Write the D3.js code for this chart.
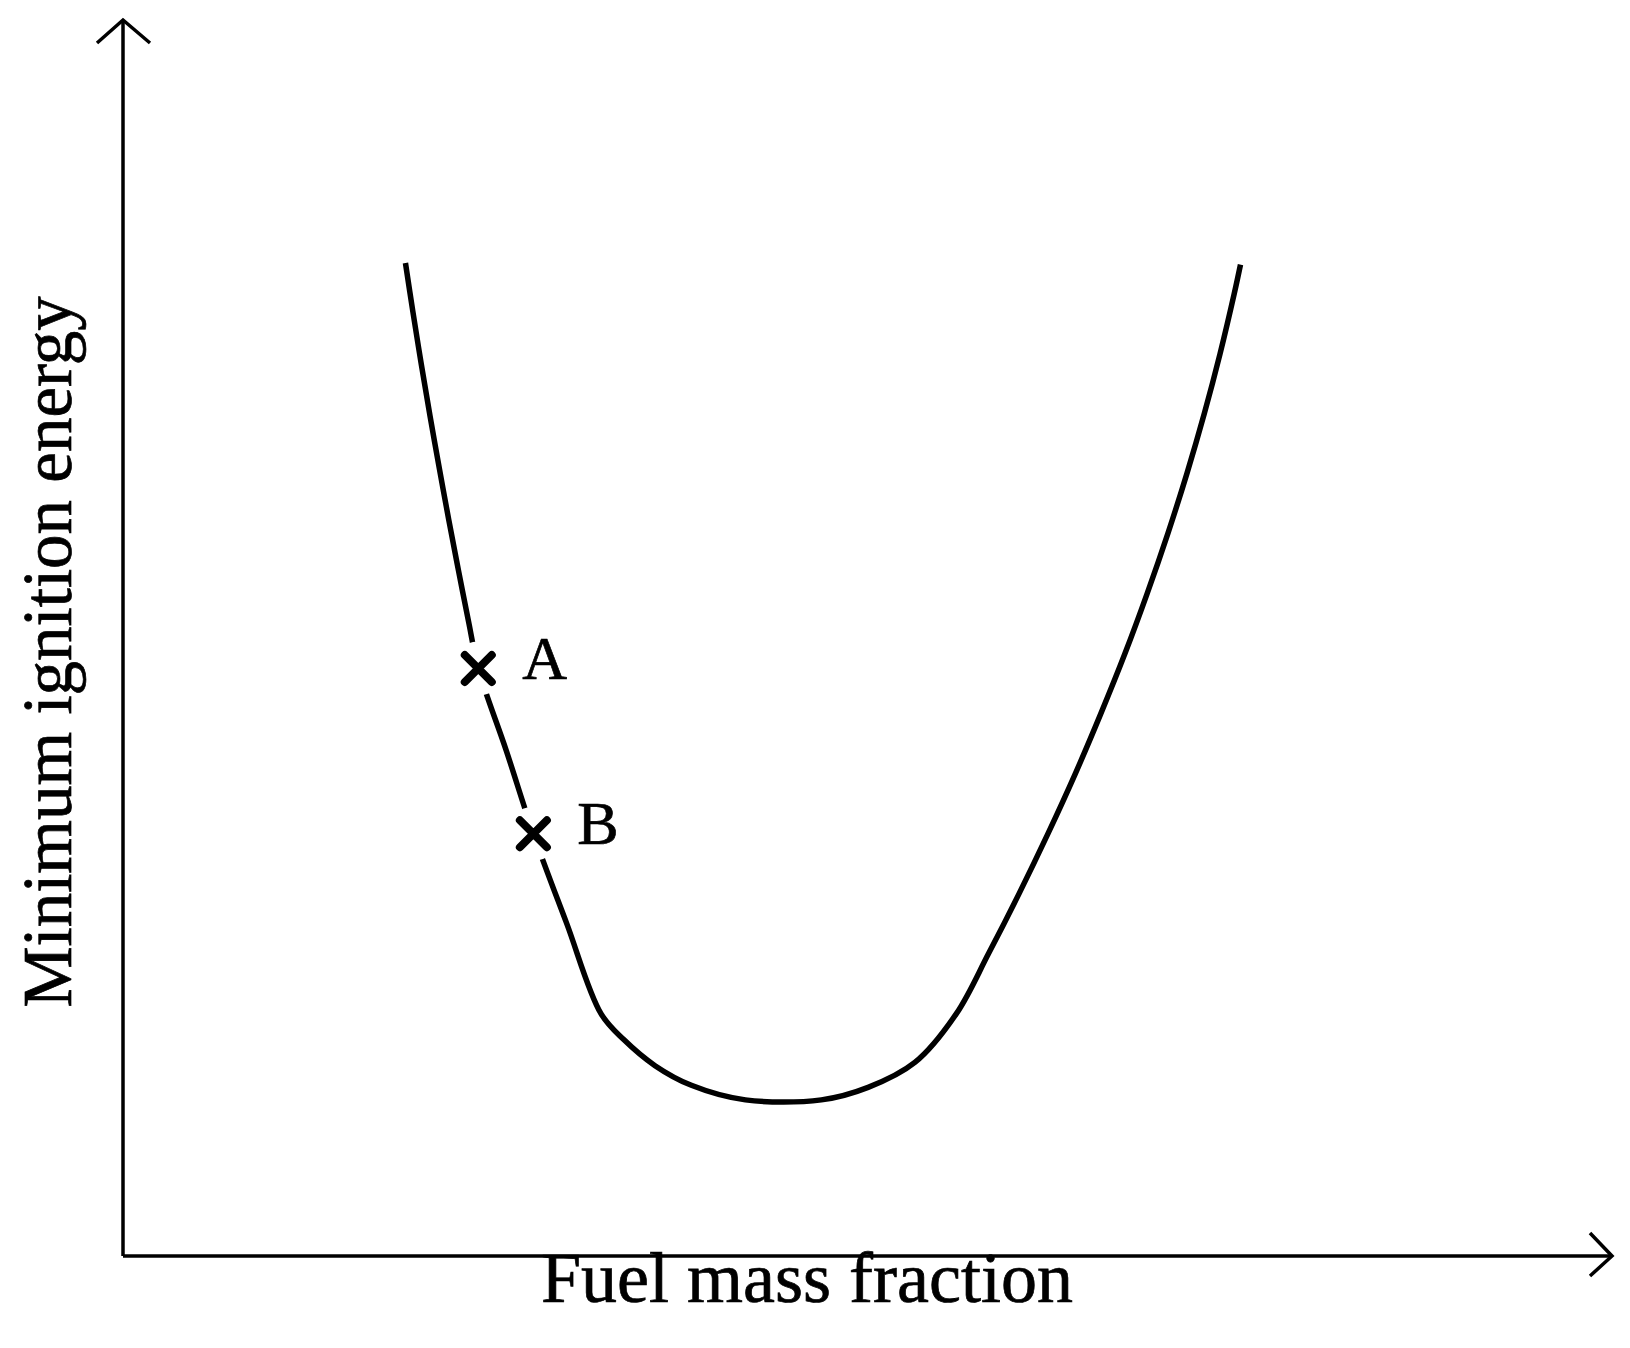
<!DOCTYPE html>
<html>
  <head>
    <script src="https://d3js.org/d3.v7.min.js"></script>
    <style>
      body {margin: 0; background: #fff;}
      #axes path {fill: none; stroke: #000; stroke-width: 3.5;}
      #curve path {fill: none; stroke: #000; stroke-width: 5.5; stroke-linejoin: round;}
      text {font-family: "Liberation Serif", "Times New Roman", serif; fill: #000; stroke: #000; stroke-width: 0.7;}
    </style>
  </head>
  <body>
    <svg id="chart" width="1630" height="1348">
      <g id="axes"/>
      <g id="curve"/>
      <g id="marks"/>
      <g id="labels"/>
    </svg>
  </body>
  <script>
      let width = 1630, height = 1348;
      let origin = {x: 123, y: 1256}, axisEnd = {x: 1612, y: 20};

      // schematic curve, arbitrary units (0-100 on both axes)
      let fuelFraction = [18.97, 19.47, 20.03, 20.62, 21.24, 21.88, 22.55, 23.24, 23.86, 25.74, 27.56, 29.79,
          32.10, 33.63, 35.73, 38.17, 41.80, 46.90, 50.04, 53.18, 55.97, 58.13, 60.18, 62.12, 63.96,
          65.67, 67.29, 68.78, 70.17, 71.45, 72.62, 73.68, 74.63, 75.05];
      let ignitionEnergy = [80.34, 76.38, 72.17, 67.96, 63.75, 59.55, 55.34, 51.13, 47.53, 40.89, 34.16, 26.93,
          19.61, 17.51, 15.40, 13.81, 12.63, 12.63, 13.64, 15.66, 19.61, 24.47, 29.32, 34.17, 39.03,
          43.88, 48.74, 53.59, 58.45, 63.30, 68.16, 73.01, 77.86, 80.21];
      let pointNames = ["A", "B"];
      let pointFraction = [23.86, 27.56];
      let pointEnergy = [47.53, 34.16];
      let xTitle = "Fuel mass fraction", yTitle = "Minimum ignition energy";

      let x = d3.scaleLinear().domain([0, 100]).range([origin.x, axisEnd.x]);
      let y = d3.scaleLinear().domain([0, 100]).range([origin.y, axisEnd.y]);

      // axes with open arrow heads
      let axes = d3.select("#axes");
      axes.append("path").attr("d", d3.line()([[x(0), y(0)], [x(0), y(100)]]));
      axes.append("path").attr("d", d3.line()([[x(0), y(0)], [x(100), y(0)]]));
      axes.append("path").attr("d", d3.line()([[x(0) - 26, y(100) + 23], [x(0), y(100)], [x(0) + 27, y(100) + 23]]));
      axes.append("path").attr("d", d3.line()([[x(100) - 22, y(0) - 23], [x(100), y(0)], [x(100) - 22, y(0) + 20]]));

      let curveData = fuelFraction.map((f, i) => ({f: f, e: ignitionEnergy[i]}));
      d3.select("#curve").append("path")
          .datum(curveData)
          .attr("d", d3.line().curve(d3.curveCatmullRom.alpha(0.5)).x(d => x(d.f)).y(d => y(d.e)));

      let pts = pointNames.map((n, i) => ({name: n, f: pointFraction[i], e: pointEnergy[i]}));
      let marks = d3.select("#marks").selectAll("g").data(pts).enter().append("g")
          .attr("transform", d => `translate(${x(d.f)},${y(d.e)})`);
      marks.append("circle").attr("r", 27).attr("fill", "#fff");
      let s = 13.5;
      marks.append("path")
          .attr("d", `M${-s},${-s}L${s},${s}M${s},${-s}L${-s},${s}`)
          .attr("stroke", "#000").attr("stroke-width", 8).attr("stroke-linecap", "round");

      let labels = d3.select("#labels");
      labels.selectAll("text.pt").data(pts).enter().append("text")
          .attr("class", "pt")
          .attr("x", d => x(d.f) + 44)
          .attr("y", d => y(d.e) + 10)
          .attr("font-size", 62)
          .text(d => d.name);

      labels.append("text")
          .attr("x", 807)
          .attr("y", 1302)
          .attr("text-anchor", "middle")
          .attr("font-size", 72)
          .text(xTitle);

      labels.append("text")
          .attr("transform", `translate(71,${652}) rotate(-90)`)
          .attr("text-anchor", "middle")
          .attr("font-size", 69)
          .text(yTitle);
  </script>
</html>
